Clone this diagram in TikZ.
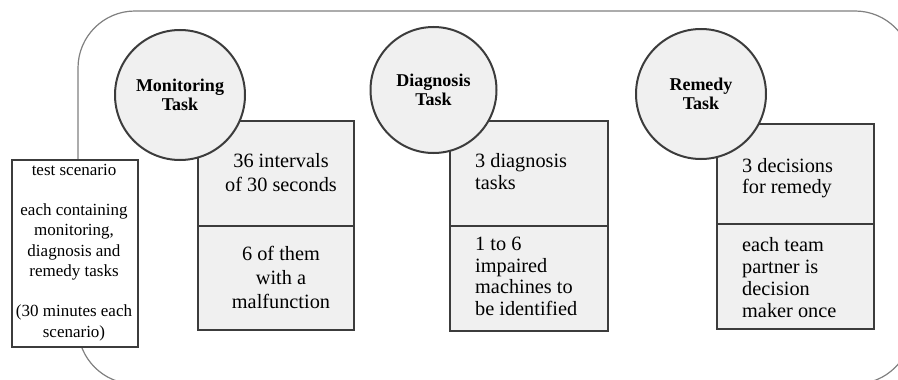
\documentclass[tikz,border=0pt]{standalone}
\usepackage{fontspec}
\setmainfont{Liberation Serif}
\definecolor{edge}{HTML}{3C3C3C}
\definecolor{panel}{HTML}{F0F0F0}
\definecolor{frame}{HTML}{808080}
\tikzset{
  part/.style={rectangle, draw=edge, line width=2pt, fill=panel,
    anchor=north west, inner sep=0pt},
  task/.style={circle, draw=edge, line width=2pt, fill=panel, inner sep=0pt,
    align=center, font=\bfseries\fontsize{18}{18.5}\selectfont},
  body/.style={inner sep=0pt, font=\fontsize{20.3}{22}\selectfont},
  scen/.style={rectangle, draw=edge, line width=1.5pt, fill=white,
    anchor=north west, inner sep=0pt}
}
\begin{document}
\begin{tikzpicture}[x=1pt, y=-1pt]
  \useasboundingbox (0,0) rectangle (898,380);
  \clip (0,0) rectangle (898,380);

  % enclosing frame
  \draw[frame, line width=1.2pt, rounded corners=57pt] (78,11) rectangle (912,384);

  % scenario description
  \node[scen, minimum width=126pt, minimum height=187pt] (scenario) at (11,159) {};
  \node[inner sep=0pt, anchor=base, align=center,
        font=\fontsize{17}{20.25}\selectfont] (scentext) at (74,337)
    {test scenario\\[20.25pt]each containing\\monitoring,\\diagnosis and\\remedy tasks\\[20.25pt](30 minutes each\\scenario)};

  % monitoring column
  \node[part, minimum width=156pt, minimum height=105pt] (monTop) at (197,120) {};
  \node[part, minimum width=156pt, minimum height=104pt] (monBot) at (197,225) {};
  \node[body, anchor=base, align=center, font=\fontsize{20.3}{24}\selectfont] (monTopText) at (281,191)
    {36 intervals\\of 30 seconds};
  \node[body, anchor=base, align=center, font=\fontsize{20.3}{24}\selectfont] (monBotText) at (281,308)
    {6 of them\\with a\\malfunction};
  \node[task, minimum size=130pt] (mon) at (180,95) {Monitoring\\Task};

  % diagnosis column
  \node[part, minimum width=158pt, minimum height=105pt] (diaTop) at (449,120) {};
  \node[part, minimum width=158pt, minimum height=105pt] (diaBot) at (449,225) {};
  \node[body, anchor=base west, align=left] (diaTopText) at (475,189.5)
    {3 diagnosis\\tasks};
  \node[body, anchor=base west, align=left, font=\fontsize{20.3}{21.4}\selectfont] (diaBotText) at (475,315)
    {1 to 6\\impaired\\machines to\\be identified};
  \node[task, minimum size=126pt] (dia) at (433.5,90) {Diagnosis\\Task};

  % remedy column
  \node[part, minimum width=157pt, minimum height=100pt] (remTop) at (716,123) {};
  \node[part, minimum width=157pt, minimum height=105pt] (remBot) at (716,223) {};
  \node[body, anchor=base west, align=left, font=\fontsize{20.3}{21}\selectfont] (remTopText) at (742,193)
    {3 decisions\\for remedy};
  \node[body, anchor=base west, align=left, font=\fontsize{20.3}{21.7}\selectfont] (remBotText) at (742,317)
    {each team\\partner is\\decision\\maker once};
  \node[task, minimum size=130pt] (rem) at (701,94) {Remedy\\Task};
\end{tikzpicture}
\end{document}
